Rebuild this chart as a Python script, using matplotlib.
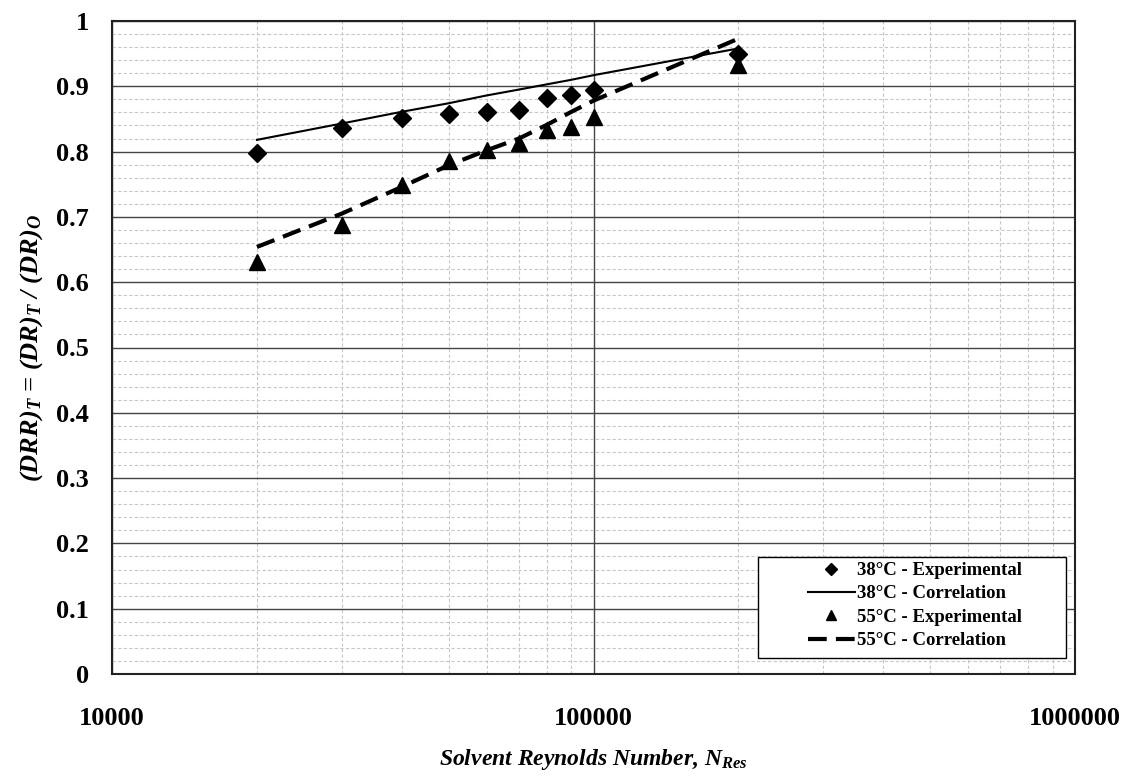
import matplotlib
matplotlib.use("Agg")
import matplotlib.pyplot as plt
from matplotlib.ticker import FixedLocator, NullFormatter, FixedFormatter
from matplotlib.patches import Rectangle

plt.rcParams["mathtext.fontset"] = "custom"
plt.rcParams["mathtext.it"] = "Liberation Serif:italic:bold"
plt.rcParams["mathtext.rm"] = "Liberation Serif:bold"
plt.rcParams["mathtext.bf"] = "Liberation Serif:bold"

re_vals = [20000, 30000, 40000, 50000, 60000, 70000, 80000, 90000, 100000, 200000]
exp_38 = [0.798, 0.836, 0.851, 0.858, 0.860, 0.864, 0.882, 0.887, 0.894, 0.949]
corr_38 = [0.818, 0.843, 0.861, 0.874, 0.886, 0.895, 0.903, 0.910, 0.917, 0.958]
exp_55 = [0.631, 0.688, 0.749, 0.785, 0.802, 0.813, 0.833, 0.838, 0.853, 0.932]
corr_55 = [0.654, 0.705, 0.746, 0.779, 0.802, 0.820, 0.841, 0.861, 0.878, 0.973]

x_ticks = [10000, 100000, 1000000]
x_ticklabels = ["10000", "100000", "1000000"]
y_ticks = [0, 0.1, 0.2, 0.3, 0.4, 0.5, 0.6, 0.7, 0.8, 0.9, 1.0]
y_ticklabels = ["0", "0.1", "0.2", "0.3", "0.4", "0.5", "0.6", "0.7", "0.8", "0.9", "1"]

serif = ["Liberation Serif", "DejaVu Serif"]
W, H = 1125, 778

fig = plt.figure(figsize=(11.25, 7.78), dpi=100)
ax = fig.add_axes([112/W, 1 - 674/H, (1075-112)/W, (674-21)/H])

ax.set_xscale("log")
ax.set_xlim(10000, 1000000)
ax.set_ylim(0, 1)

ax.xaxis.set_major_locator(FixedLocator(x_ticks))
ax.xaxis.set_major_formatter(FixedFormatter(x_ticklabels))
minor_x = [m * d for d in (10000, 100000) for m in range(2, 10)]
ax.xaxis.set_minor_locator(FixedLocator(minor_x))
ax.xaxis.set_minor_formatter(NullFormatter())
ax.yaxis.set_major_locator(FixedLocator(y_ticks))
ax.yaxis.set_major_formatter(FixedFormatter(y_ticklabels))
ax.yaxis.set_minor_locator(FixedLocator([i * 0.02 for i in range(51)]))

ax.grid(which="major", color="#444444", linewidth=1.0, linestyle="-")
ax.grid(which="minor", color="#c8c8c8", linewidth=0.8, linestyle=(0, (3, 2)))
ax.set_axisbelow(True)
ax.tick_params(which="both", length=0)
ax.tick_params(axis="x", pad=24)
ax.tick_params(axis="y", pad=16.5)
for sp in ax.spines.values():
    sp.set_color("#222222")
    sp.set_linewidth(1.5)

ax.plot(re_vals, exp_38, linestyle="none", marker="D", markersize=9, color="black",
        label="38°C - Experimental")
ax.plot(re_vals, corr_38, linestyle="-", linewidth=1.5, color="black",
        label="38°C - Correlation")
ax.plot(re_vals, exp_55, linestyle="none", marker="^", markersize=11, color="black",
        label="55°C - Experimental")
ax.plot(re_vals, corr_55, linestyle=(0, (4.5, 2.2)), linewidth=3.0, color="black",
        label="55°C - Correlation")

for lbl in ax.get_xticklabels():
    lbl.set_fontfamily(serif); lbl.set_fontweight("bold"); lbl.set_fontsize(19)
for lbl in ax.get_yticklabels():
    lbl.set_fontfamily(serif); lbl.set_fontweight("bold"); lbl.set_fontsize(19)

ax.set_xlabel(r"Solvent Reynolds Number, N$_{Res}$", fontfamily=serif,
              fontstyle="italic", fontweight="bold", fontsize=17, labelpad=12)
ax.set_ylabel(r"(DRR)$_T$ = (DR)$_T$ / (DR)$_O$", fontfamily=serif,
              fontstyle="italic", fontweight="bold", fontsize=19, labelpad=8)

leg = ax.legend(loc="upper left", bbox_to_anchor=(808/W, 1 - 562/H),
                bbox_transform=fig.transFigure, frameon=False,
                prop={"family": serif, "weight": "bold", "size": 13.5},
                handlelength=2.5, handletextpad=0.1, labelspacing=0.33,
                borderpad=0, borderaxespad=0, markerscale=0.7)
frame = Rectangle((758/W, 1 - 658/H), (1066-758)/W, (658-557)/H,
                  transform=fig.transFigure, facecolor="white", edgecolor="black",
                  linewidth=1.0, zorder=4)
ax.add_artist(frame)
frame.set_clip_on(False)
leg.set_zorder(5)

fig.savefig("out.png", dpi=100)
